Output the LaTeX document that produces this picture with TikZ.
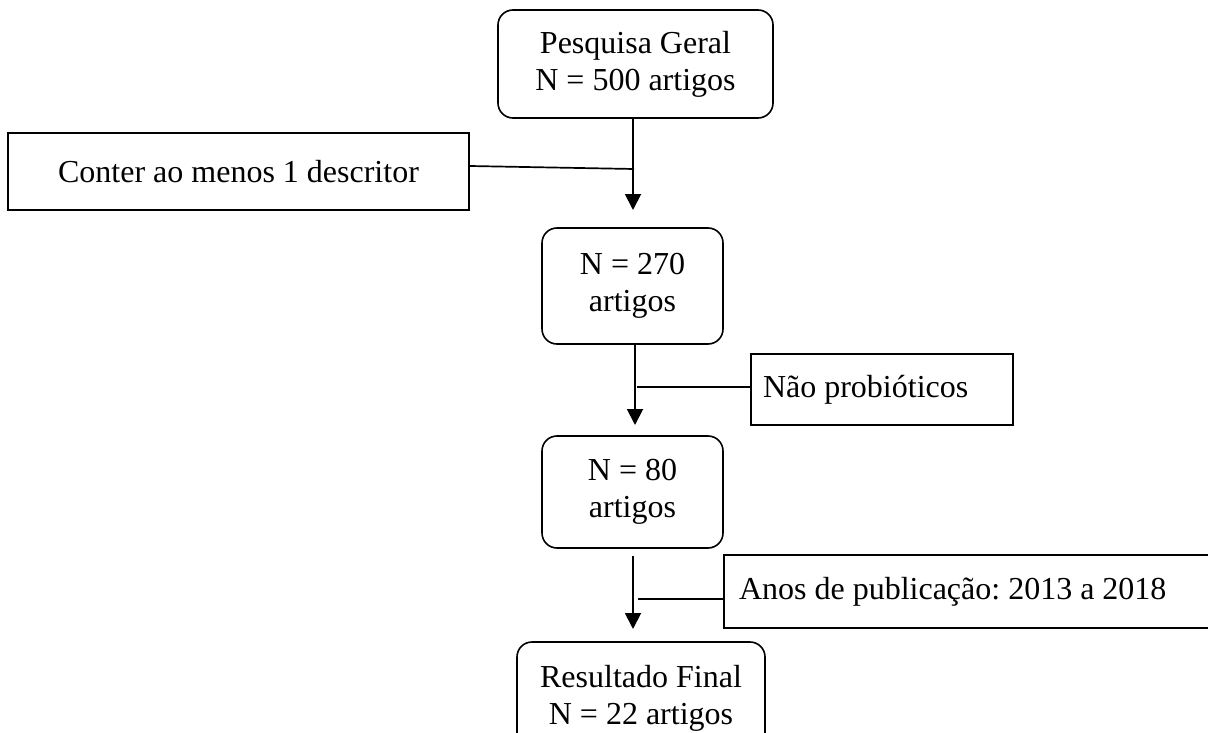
\documentclass[tikz,border=0pt]{standalone}
\usepackage{fontspec}
\setmainfont{Liberation Serif}
\usetikzlibrary{arrows.meta}
\frenchspacing
\begin{document}
\begin{tikzpicture}[x=1pt,y=1pt,
  every node/.style={font=\fontsize{32}{36.8}\selectfont},
  rbox/.style={draw, line width=1.6pt, rounded corners=15pt, align=center, inner sep=0pt},
  sbox/.style={draw, line width=1.6pt, inner sep=0pt, align=center},
  arr/.style={line width=1.9pt, -{Triangle[width=16pt,length=16pt]}},
  conn/.style={line width=1.7pt}]
\useasboundingbox (0,0) rectangle (1208,-733);
% boxes
\node[rbox, minimum width=275, minimum height=108] (top) at (635.5,-64) {Pesquisa Geral\\N = 500 artigos};
\node[sbox, minimum width=461, minimum height=77] (lb) at (238.5,-171.5) {Conter ao menos 1 descritor};
\node[rbox, minimum width=181, minimum height=116] (b270) at (632.5,-286) {N = 270\\artigos};
\node[sbox, minimum width=262, minimum height=71] (np) at (882,-389.5) {\makebox[238pt][l]{Não probióticos}};
\node[sbox, minimum width=490, minimum height=73] (anos) at (969,-591.5) {\makebox[460pt][l]{Anos de publicação: 2013 a 2018}};
\node[rbox, minimum width=181, minimum height=112] (b80) at (632.5,-492) {N = 80\\artigos};
\node[rbox, minimum width=248, minimum height=113] (fin) at (641,-698.5) {Resultado Final\\N = 22 artigos};
% arrows
\coordinate (t1) at (633,-210);
\coordinate (j1) at (634,-169);
\draw[arr] (top.south -| t1) -- (t1);
\draw[conn] ([yshift=5.5pt]lb.east) -- (j1);
\coordinate (s2) at (635,-344);
\coordinate (t2) at (635,-425);
\coordinate (j2) at (637,-387);
\draw[arr] (s2) -- (t2);
\draw[conn] (j2) -- (np.west |- j2);
\coordinate (s3) at (633,-556);
\coordinate (t3) at (633,-629);
\coordinate (j3) at (638,-599);
\draw[arr] (s3) -- (t3);
\draw[conn] (j3) -- (anos.west |- j3);
\end{tikzpicture}
\end{document}
